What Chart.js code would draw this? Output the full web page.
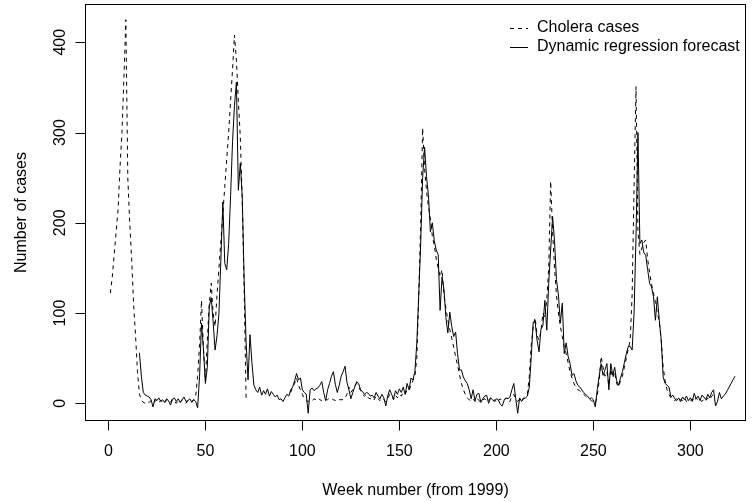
<!DOCTYPE html>
<html>
<head>
<meta charset="utf-8">
<script src="https://cdn.jsdelivr.net/npm/chart.js@4.4.1/dist/chart.umd.min.js"></script>
<style>
  body { margin: 0; background: #fff; }
  canvas { display: block; }
</style>
</head>
<body>
<canvas id="chart" width="754" height="502"></canvas>
<script>
// weekly cholera cases, week 1 onwards (null = missing)
const casesStartWeek = 1;
const cases = [
  122, 140, 165, 190, 215, 262, 300, 360, 425, 250, 200, 160, 110, 75, 35, 10, 4, 1, 0, 2,
  1, 3, 0, 2, 4, 1, 3, 2, 0, 4, 2, 1, 5, 2, 0, 3, 1, 4, 2, 0, 3, 1, 2, 4, 8,
  30, 65, 114, 60, 25, 70, 110, 133, 100, 85, 120, 150, 180, 210, 240, 270, 300, 335, 370, 408,
  380, 335, 295, 225, 125, 3,
  null, null, null, null, null, null, null, null, null, null, null,
  null, null, null, null, null, null, null, null, null, null, null,
  12, 18, 22, 28, 20, 15, 10, 5, 3, 2, 4, 3, 5, 4, 6, 4, 3, 5, 4, 4, 6, 5, 4, 3, 5, 4, 4, 4, 6, 10,
  18, 12, 15, 20, 22, 18, 14, 10, 8, 10, 6, 5, 7, 4, 8, 5, 3, 6, 4, 2, 5, 10, 8, 4, 9, 6, 10, 8, 12, 10,
  15, 14,
  20, 25, 30, 50, 120, 200, 305, 260, 235, 218, 205, 185, 175, 160, 150, 140, 148, 120, 105, 92,
  82, 72, 62, 52, 42, 32, 22, 15, 10, 6,
  4, 3, 5, 2, 6, 3, 1, 4, 5, 2, 3, 6, 2, 4, 1, 3, 5, 2, 4, 6, 3, 2, 8, 10, 4, 2, 5, 3, 6, 8,
  10, 30, 65, 85, 95, 75, 70, 80, 100, 95, 115, 150, 246, 190, 150, 120, 100, 85, 74, 62, 55, 45, 35, 28, 22,
  18, 15, 14, 12, 10, 8, 6, 5, 3, 2, 0, 8, 25, 52, 40, 30, 35, 20, 38, 28, 35, 22, 18, 25, 30, 40, 50, 60, 70,
  120, 240, 351, 190, 165, 172, 178, 181, 160, 145, 132, 122, 112, 100, 90, 70, 40, 25, 15, 10,
  6, 4, 3, 5, 2, 4, 3, 6, 2, 4, 3,
  5, 2, 6, 3, 4, 2, 5, 3, 6, 4, 8, 10
];

// one-step dynamic regression forecast, from week 16
const forecastStartWeek = 16;
const forecast = [
  56, 30, 12, 9, 8, 7, 4, -4, 5, 3, 6, 2, 4, 1, 5, 3, -2, 4, 6, 2, 5, 1, 4, 7, 2, 3, 5, 1, 4, 2,
  -5, 30, 89, 60, 22, 40, 107, 117, 90, 59, 75, 100, 160, 223, 155, 148, 177, 230, 290, 330,
  356, 236, 266, 229, 136, 67, 26, 76, 45, 20,
  15, 12, 18, 9, 14, 10, 16, 8, 13, 10, 7, 9, 4, 5, 2, 6, 10, 8, 15, 18, 25, 33, 26, 28, 15, 12, 10, -11, 15, 17,
  14, 16, 17, 20, 24, 12, 3, 15, 22, 30, 35, 21, 12, 20, 30, 35, 41, 23, 15, 5, 12, 18, 24, 22, 15, 13, 10, 12, 11, 8,
  9, 6, 12, 8, 5, 10, 6, -3, 8, 15, 10, 5, 14, 10, 16, 12, 18, 10, 22, 15, 28, 26, 35, 67, 120, 177, 250, 284, 251, 230,
  190, 200, 180, 170, 165, 103, 140, 126, 95, 78, 101, 85, 74, 79, 55, 37, 37, 29, 25, 22, 15, 5, 15, 3, 10, 11, 1, 5, 8, 9,
  0, 6, 4, 2, 5, 4, -1, -3, 3, 6, 5, 7, 15, 22, 5,
  -11, 6, 2, 5, 6, 8, 18, 52, 90, 90, 70, 57, 82, 86, 114, 81, 133, 170, 207, 180, 137, 120, 89, 111, 55, 67, 52, 44, 31, 33,
  25, 20, 18, 15, 12, 10, 8, 5, 6, 4, -4, 15, 30, 44, 31, 37, 44, 15, 44, 31, 40, 25, 20, 28, 35, 45, 55, 63, 63, 59,
  100, 185, 300, 177, 181, 167, 164, 148, 133, 129, 118, 92, 118, 92, 70, 29, 22, 20, 18, 7, 9, 5, 3, 6, 2, 7, 4, 8, 3, 6,
  2, 11, 5, 8, 3, 9, 7, 4, 10, 6, 12, 15, -3, 2, 12, 5, 8, 10, 14, 18, 22, 26, 30
];

const xTicks = [0, 50, 100, 150, 200, 250, 300];
const yTicks = [0, 100, 200, 300, 400];
const xTitle = "Week number (from 1999)";
const yTitle = "Number of cases";
const legendLabels = ["Cholera cases", "Dynamic regression forecast"];

const FONT = '16px "Liberation Sans", Arial, sans-serif';

const toPoints = (start, values) => values.map((v, i) => ({ x: start + i, y: v }));

// R style axes, box and legend
const baseAxes = {
  id: "baseAxes",
  afterDraw(chart) {
    const { ctx, chartArea: a, scales: { x, y } } = chart;
    ctx.save();
    ctx.strokeStyle = "#000";
    ctx.fillStyle = "#000";
    ctx.lineWidth = 1;
    ctx.setLineDash([]);
    ctx.font = FONT;

    const L = Math.round(a.left) + 0.5, R = Math.round(a.right) - 0.5;
    const T = Math.round(a.top) + 0.5, B = Math.round(a.bottom) - 0.5;
    ctx.strokeRect(L, T, R - L, B - T);

    // x axis
    ctx.beginPath();
    xTicks.forEach(v => {
      const px = Math.round(x.getPixelForValue(v)) + 0.5;
      ctx.moveTo(px, B);
      ctx.lineTo(px, B + 10);
    });
    ctx.stroke();
    ctx.textAlign = "center";
    ctx.textBaseline = "alphabetic";
    xTicks.forEach(v => ctx.fillText(String(v), x.getPixelForValue(v), B + 35));
    ctx.fillText(xTitle, (L + R) / 2, B + 74);

    // y axis
    ctx.beginPath();
    yTicks.forEach(v => {
      const py = Math.round(y.getPixelForValue(v)) + 0.5;
      ctx.moveTo(L, py);
      ctx.lineTo(L - 10, py);
    });
    ctx.stroke();
    yTicks.forEach(v => {
      ctx.save();
      ctx.translate(L - 21, y.getPixelForValue(v));
      ctx.rotate(-Math.PI / 2);
      ctx.fillText(String(v), 0, 0);
      ctx.restore();
    });
    ctx.save();
    ctx.translate(L - 60, (T + B) / 2);
    ctx.rotate(-Math.PI / 2);
    ctx.fillText(yTitle, 0, 0);
    ctx.restore();

    // legend, top right
    const lx0 = 510, lx1 = 528, tx = 537;
    const ly = [28, 47];
    ctx.beginPath();
    ctx.setLineDash([4, 4]);
    ctx.moveTo(lx0, ly[0] + 0.5);
    ctx.lineTo(lx1, ly[0] + 0.5);
    ctx.stroke();
    ctx.setLineDash([]);
    ctx.beginPath();
    ctx.moveTo(lx0, ly[1] + 0.5);
    ctx.lineTo(lx1, ly[1] + 0.5);
    ctx.stroke();
    ctx.textAlign = "left";
    ctx.textBaseline = "middle";
    ctx.fillText(legendLabels[0], tx, ly[0]);
    ctx.fillText(legendLabels[1], tx, ly[1]);
    ctx.restore();
  }
};

new Chart(document.getElementById("chart"), {
  type: "line",
  data: {
    datasets: [
      {
        label: legendLabels[1],
        data: toPoints(forecastStartWeek, forecast),
        borderColor: "#000",
        borderWidth: 1,
        pointRadius: 0,
        tension: 0,
        order: 0
      },
      {
        label: legendLabels[0],
        data: toPoints(casesStartWeek, cases),
        borderColor: "#000",
        borderWidth: 1,
        borderDash: [4, 4],
        pointRadius: 0,
        tension: 0,
        order: 1
      }
    ]
  },
  options: {
    responsive: false,
    animation: false,
    devicePixelRatio: 1,
    spanGaps: false,
    layout: { padding: { left: 85, right: 8, top: 4, bottom: 81 } },
    plugins: { legend: { display: false }, tooltip: { enabled: false } },
    scales: {
      x: { type: "linear", min: -12.06, max: 328.7, display: false },
      y: { type: "linear", min: -19.6, max: 442.4, display: false }
    }
  },
  plugins: [baseAxes]
});
</script>
</body>
</html>
